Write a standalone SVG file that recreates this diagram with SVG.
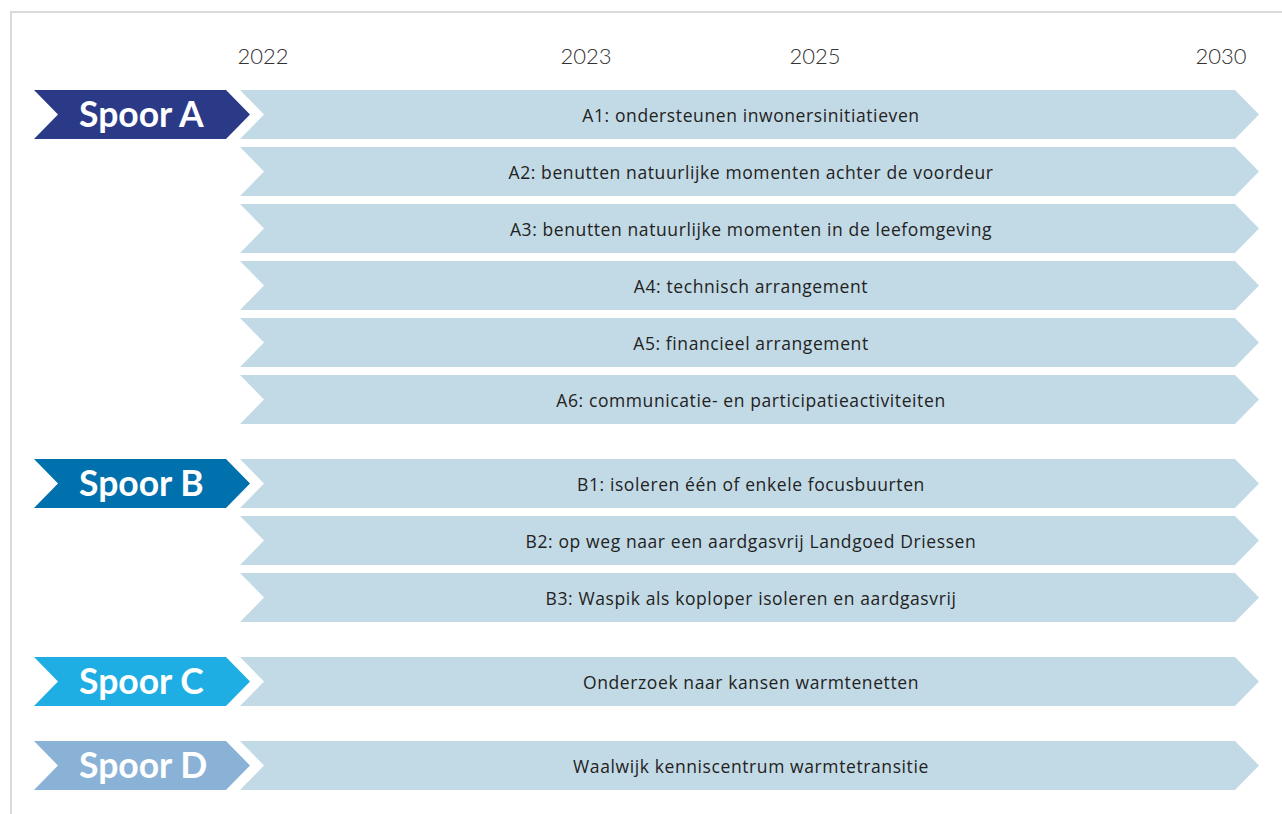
<svg xmlns="http://www.w3.org/2000/svg" width="1282" height="814" viewBox="0 0 1282 814">
<style>
.frame{fill:none;stroke:#d9d9d9;stroke-width:2}
.year{font-family:Lato,"Open Sans",sans-serif;font-weight:300;font-size:22px;fill:#333;text-anchor:middle}
.bar{fill:#c2dae5}
.lbl{font-family:"Open Sans",Lato,sans-serif;font-size:17.5px;letter-spacing:0.6px;fill:#222;text-anchor:middle}
.sp{font-family:Lato,"Open Sans",sans-serif;font-weight:700;font-size:35.5px;fill:#fff}
</style>
<defs>
<path id="bar" class="bar" d="M240 0 H1235 L1259 24.5 L1235 49 H240 L264 24.5 Z"/>
<path id="tag" d="M34 0 H226 L250 24.5 L226 49 H34 L58 24.5 Z"/>
</defs>
<rect class="frame" x="11" y="12" width="1290" height="820"/>
<g id="years">
<text class="year" x="263" y="64">2022</text>
<text class="year" x="586" y="64">2023</text>
<text class="year" x="815" y="64">2025</text>
<text class="year" x="1221" y="64">2030</text>
</g>
<g id="spoorA"><use href="#tag" y="90" fill="#2b3a87"/><text class="sp" x="79" y="127">Spoor A</text></g>
<g id="spoorB"><use href="#tag" y="459" fill="#0071ad"/><text class="sp" x="79" y="496">Spoor B</text></g>
<g id="spoorC"><use href="#tag" y="657" fill="#1eaee3"/><text class="sp" x="79" y="694">Spoor C</text></g>
<g id="spoorD"><use href="#tag" y="741" fill="#8ab2d7"/><text class="sp" x="79" y="778">Spoor D</text></g>
<g id="A1"><use href="#bar" y="90"/><text class="lbl" x="751" y="122">A1: ondersteunen inwonersinitiatieven</text></g>
<g id="A2"><use href="#bar" y="147"/><text class="lbl" x="751" y="179">A2: benutten natuurlijke momenten achter de voordeur</text></g>
<g id="A3"><use href="#bar" y="204"/><text class="lbl" x="751" y="236">A3: benutten natuurlijke momenten in de leefomgeving</text></g>
<g id="A4"><use href="#bar" y="261"/><text class="lbl" x="751" y="293">A4: technisch arrangement</text></g>
<g id="A5"><use href="#bar" y="318"/><text class="lbl" x="751" y="350">A5: financieel arrangement</text></g>
<g id="A6"><use href="#bar" y="375"/><text class="lbl" x="751" y="407">A6: communicatie- en participatieactiviteiten</text></g>
<g id="B1"><use href="#bar" y="459"/><text class="lbl" x="751" y="491">B1: isoleren één of enkele focusbuurten</text></g>
<g id="B2"><use href="#bar" y="516"/><text class="lbl" x="751" y="548">B2: op weg naar een aardgasvrij Landgoed Driessen</text></g>
<g id="B3"><use href="#bar" y="573"/><text class="lbl" x="751" y="605">B3: Waspik als koploper isoleren en aardgasvrij</text></g>
<g id="C1"><use href="#bar" y="657"/><text class="lbl" x="751" y="689">Onderzoek naar kansen warmtenetten</text></g>
<g id="D1"><use href="#bar" y="741"/><text class="lbl" x="751" y="773">Waalwijk kenniscentrum warmtetransitie</text></g>
<g id="connectors"></g>
</svg>
